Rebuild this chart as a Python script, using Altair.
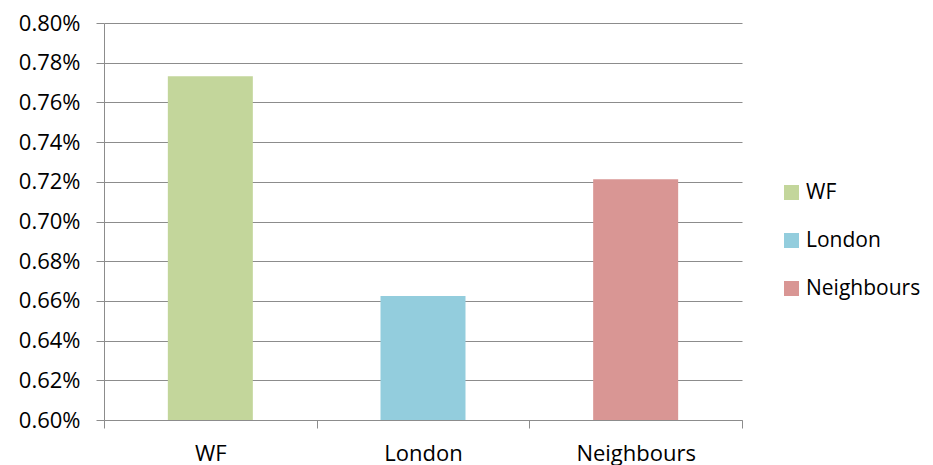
import altair as alt
import pandas as pd

categories = ["WF", "London", "Neighbours"]
values_pct = [0.7732, 0.6625, 0.7213]
colors = ["#C3D69B", "#93CDDD", "#D99694"]

df = pd.DataFrame({"region": categories, "share": [v / 100 for v in values_pct]})

FONT = "Open Sans"
GRID = "#8C8C8C"
BASE = 0.006

chart = (
    alt.Chart(df)
    .mark_bar(size=85)
    .encode(
        x=alt.X(
            "region:N",
            sort=categories,
            scale=alt.Scale(paddingInner=0, paddingOuter=0),
            axis=alt.Axis(
                title=None,
                labelAngle=0,
                tickBand="extent",
                tickSize=8,
                tickColor=GRID,
                domainColor=GRID,
                labelFontSize=22,
                labelFont=FONT,
                labelColor="#000000",
                labelPadding=15,
                grid=False,
            ),
        ),
        y=alt.Y(
            "share:Q",
            scale=alt.Scale(domain=[0.006, 0.008], nice=False, zero=False),
            axis=alt.Axis(
                title=None,
                format=".2%",
                values=[0.006 + 0.0002 * i for i in range(11)],
                tickSize=8,
                tickColor=GRID,
                domainColor=GRID,
                gridColor=GRID,
                gridOpacity=1,
                labelFontSize=22,
                labelFont=FONT,
                labelColor="#000000",
                labelPadding=16,
            ),
        ),
        y2=alt.Y2(datum=BASE),
        color=alt.Color(
            "region:N",
            sort=categories,
            scale=alt.Scale(domain=categories, range=colors),
            legend=alt.Legend(
                title=None,
                orient="none",
                legendX=677,
                legendY=159,
                symbolType="square",
                symbolSize=225,
                symbolStrokeWidth=0,
                labelFontSize=21,
                labelFont=FONT,
                labelColor="#000000",
                rowPadding=26,
                labelOffset=4,
            ),
        ),
    )
    .properties(
        width=638,
        height=397,
        background="#FFFFFF",
        autosize=alt.AutoSizeParams(type="none"),
        padding={"left": 96, "top": 15, "right": 183, "bottom": 45},
    )
    .configure_view(strokeWidth=0, stroke="transparent")
)

chart.save("out.html", embed_options={"renderer": "svg", "actions": False})
